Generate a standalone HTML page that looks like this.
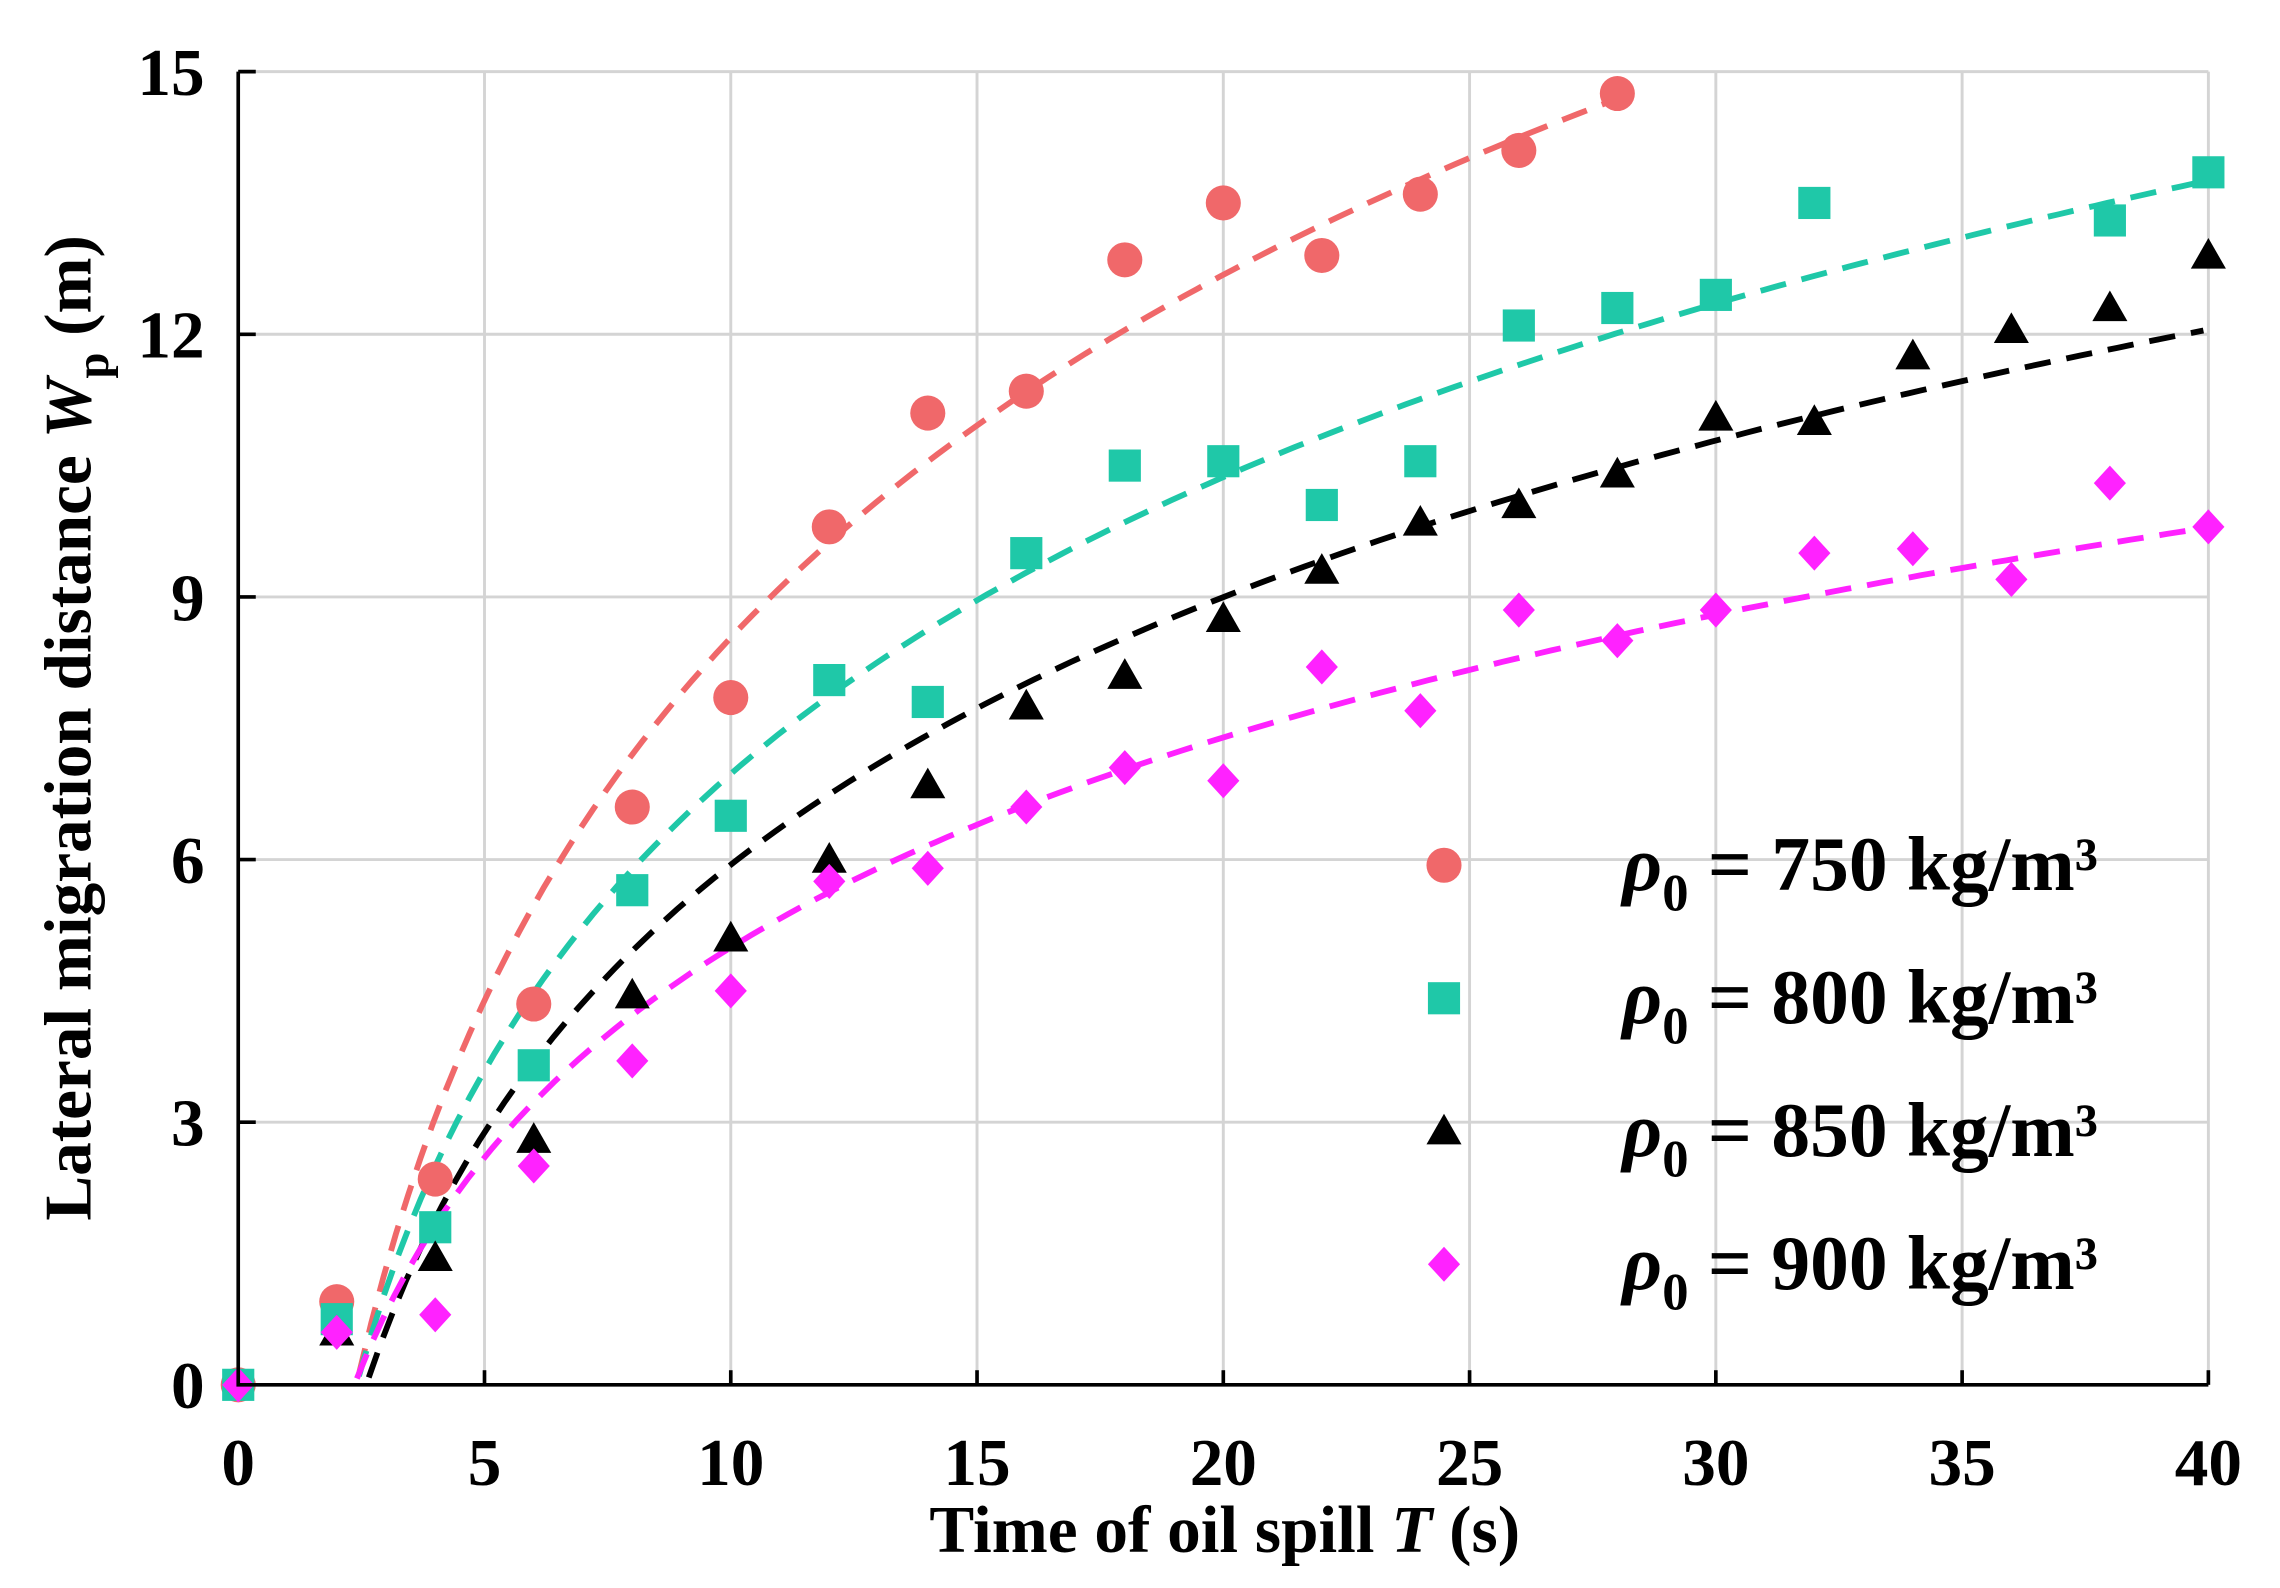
<!DOCTYPE html>
<html><head><meta charset="utf-8"><style>
html,body{margin:0;padding:0;background:#fff}
svg{display:block}
text{font-family:"Liberation Serif",serif;font-weight:bold;fill:#000}
</style></head><body>
<svg width="2280" height="1588" viewBox="0 0 1560 1086.5" xmlns="http://www.w3.org/2000/svg">
<g id="grid" stroke="#d4d4d4" stroke-width="2"></g>
<g id="curves" fill="none" stroke-width="4" stroke-dasharray="18,11"></g>
<g id="pts"></g>
<g id="axes" stroke="#000" stroke-width="2.5" fill="none"></g>
<g id="labels" font-size="46"></g>
<text x="838" y="1062" font-size="46" text-anchor="middle">Time of oil spill <tspan font-style="italic">T</tspan> (s)</text>
<text transform="translate(62,498) rotate(-90)" font-size="46" text-anchor="middle">Lateral migration distance <tspan font-style="italic">W</tspan><tspan font-size="32" dy="12">p</tspan><tspan dy="-12"> (m)</tspan></text>
<g font-size="53">
<text x="1110" y="609"><tspan font-style="italic">ρ</tspan><tspan font-size="36" dy="14">0</tspan><tspan dy="-14"> = 750 kg/m³</tspan></text>
<text x="1110" y="700"><tspan font-style="italic">ρ</tspan><tspan font-size="36" dy="14">0</tspan><tspan dy="-14"> = 800 kg/m³</tspan></text>
<text x="1110" y="791"><tspan font-style="italic">ρ</tspan><tspan font-size="36" dy="14">0</tspan><tspan dy="-14"> = 850 kg/m³</tspan></text>
<text x="1110" y="882"><tspan font-style="italic">ρ</tspan><tspan font-size="36" dy="14">0</tspan><tspan dy="-14"> = 900 kg/m³</tspan></text>
</g>
<script>
const NS="http://www.w3.org/2000/svg";
const X=t=>163+t*33.70, Y=v=>947.5-v*59.9;
function el(p,tag,a){const e=document.createElementNS(NS,tag);for(const k in a)e.setAttribute(k,a[k]);document.getElementById(p).appendChild(e);return e;}
for(let t=5;t<=40;t+=5)el('grid','line',{x1:X(t),x2:X(t),y1:Y(0),y2:Y(15)});
for(let v=3;v<=15;v+=3)el('grid','line',{x1:X(0),x2:X(40),y1:Y(v),y2:Y(v)});
el('axes','path',{d:`M${X(0)},${Y(15)} V${Y(0)} H${X(40)}`});
for(let t=5;t<=40;t+=5)el('axes','line',{x1:X(t),x2:X(t),y1:Y(0),y2:Y(0)-10});
for(let v=3;v<=15;v+=3)el('axes','line',{x1:X(0),x2:X(0)+12,y1:Y(v),y2:Y(v)});
for(let t=0;t<=40;t+=5){const e=el('labels','text',{x:X(t),y:1016,'text-anchor':'middle'});e.textContent=t;}
for(let v=0;v<=15;v+=3){const e=el('labels','text',{x:140,y:Y(v)+16,'text-anchor':'end'});e.textContent=v;}
function curve(c,a,x0,x1){let d='';for(let t=x0+0.05;t<=x1;t+=0.25){const v=a*Math.log(t/x0);d+=(d?'L':'M')+X(t).toFixed(1)+','+Y(Math.max(v,0)).toFixed(1);}el('curves','path',{d,stroke:c});}
curve('#f0686a',5.98,2.4,28);curve('#1fc8a8',4.89,2.4,40);curve('#000',4.41,2.6,40);curve('#ff22ff',3.46,2.36,40);
function mark(type,c,x,y){
 if(type==0)el('pts','circle',{cx:x,cy:y,r:12,fill:c});
 else if(type==1)el('pts','rect',{x:x-11,y:y-11,width:22,height:22,fill:c});
 else if(type==2)el('pts','path',{d:`M${x},${y-12} L${x+12},${y+9} L${x-12},${y+9}Z`,fill:c});
 else el('pts','path',{d:`M${x},${y-12} L${x+11},${y} L${x},${y+12} L${x-11},${y}Z`,fill:c});
}
const S=[
['#f0686a',0,[[0,0],[2,.95],[4,2.35],[6,4.35],[8,6.6],[10,7.85],[12,9.8],[14,11.1],[16,11.35],[18,12.85],[20,13.5],[22,12.9],[24,13.6],[26,14.1],[28,14.75]]],
['#1fc8a8',1,[[0,0],[2,.75],[4,1.8],[6,3.65],[8,5.65],[10,6.5],[12,8.05],[14,7.8],[16,9.5],[18,10.5],[20,10.55],[22,10.05],[24,10.55],[26,12.1],[28,12.3],[30,12.45],[32,13.5],[38,13.3],[40,13.85]]],
['#000',2,[[2,.6],[4,1.45],[6,2.8],[8,4.45],[10,5.1],[12,6.0],[14,6.85],[16,7.75],[18,8.1],[20,8.75],[22,9.3],[24,9.85],[26,10.05],[28,10.4],[30,11.05],[32,11.0],[34,11.75],[36,12.05],[38,12.3],[40,12.9]]],
['#ff22ff',3,[[0,0],[2,.6],[4,.8],[6,2.5],[8,3.7],[10,4.5],[12,5.75],[14,5.9],[16,6.6],[18,7.05],[20,6.9],[22,8.2],[24,7.7],[26,8.85],[28,8.5],[30,8.85],[32,9.5],[34,9.55],[36,9.2],[38,10.3],[40,9.8]]]];
S.forEach(([c,t,p],i)=>{p.forEach(([a,b])=>mark(t,c,X(a),Y(b)));mark(t,c,988,[592,683,774,865][i]);});
</script>
</svg>
</body></html>
